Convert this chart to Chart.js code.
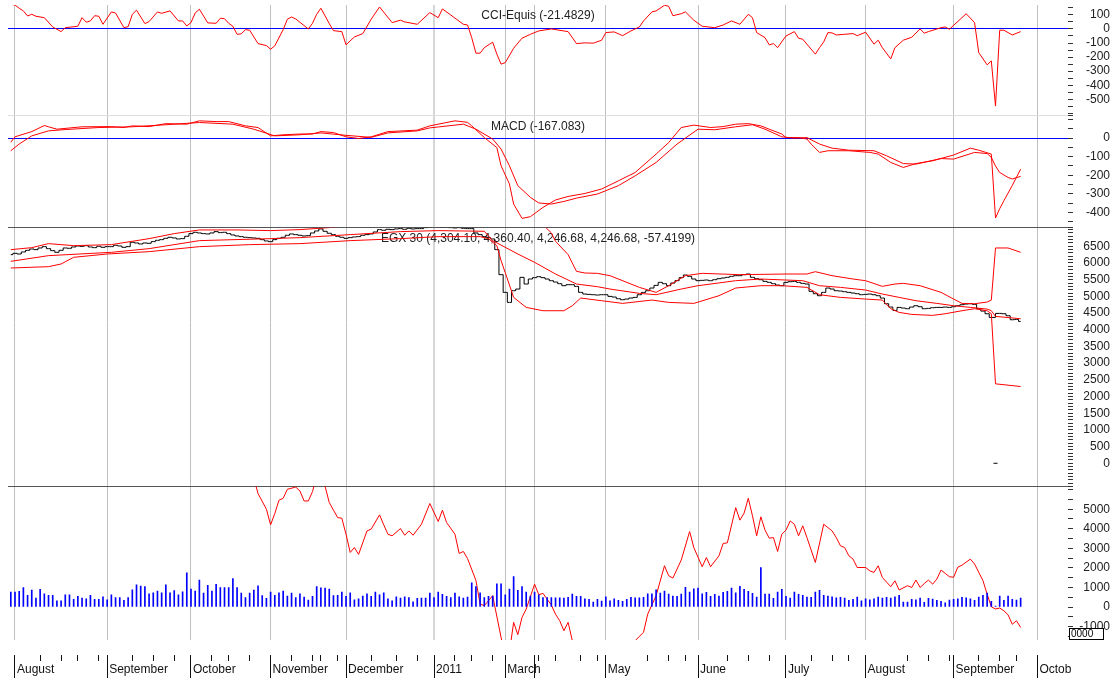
<!DOCTYPE html>
<html>
<head>
<meta charset="utf-8">
<script src="https://cdn.jsdelivr.net/npm/chart.js@4.4.1/dist/chart.umd.min.js"></script>
<style>
  html, body { margin: 0; padding: 0; background: #fff; }
</style>
</head>
<body>
<canvas id="chart" width="1110" height="682"></canvas>
<script>
// ===== X AXIS: trading-day index, month starts and week marks =====
const monthDays   = [1, 23, 43, 62, 80, 101, 118, 125, 142, 164, 185, 204, 225, 245];
const monthLabels = ['August', 'September', 'October', 'November', 'December', '2011', 'March', '',
                     'May', 'June', 'July', 'August', 'September', 'Octob'];
const weekDays = [7, 12, 16, 21, 29, 34, 39, 48, 52, 57, 67, 72, 74, 78, 86, 92, 97, 106, 110, 115,
                  126, 130, 136, 140, 152, 157, 161, 171, 176, 181, 191, 196, 200, 214, 219, 224, 231, 236, 240];

// ===== CCI =====
const cciDays = [0, 1, 2, 3, 4, 5, 6, 8, 10, 12, 13, 16, 17, 18, 19, 20, 21, 22, 24, 25, 27, 28, 29, 30, 32, 33, 35, 36, 38,
  40, 41, 42, 43, 44, 45, 46, 47, 49, 50, 51, 52, 53, 54, 55, 56, 57, 59, 61, 62, 63, 65, 66, 67, 68, 71, 72, 73, 74,
  76, 77, 79, 80, 82, 84, 86, 88, 91, 93, 94, 97, 100, 102, 103, 105, 108, 109, 110, 111, 112, 113, 115, 116, 117,
  118, 120, 122, 124, 126, 129, 133, 135, 137, 139, 141, 142, 144, 146, 148, 150, 151, 153, 154, 156, 157, 158, 160,
  161, 163, 165, 168, 170, 172, 174, 176, 177, 178, 180, 181, 182, 183, 185, 187, 188, 189, 192, 193, 194, 195, 196,
  197, 199, 201, 202, 204, 206, 207, 208, 210, 211, 213, 215, 217, 218, 219, 222, 223, 224, 228, 230, 231, 233, 234,
  235, 236, 237, 239, 241];
const cciValues = [175, 170, 147, 128, 92, 104, 90, 80, 14, -19, 9, 19, 80, 48, 57, 94, 90, 33, 121, 113, 9, 16, 104, 133, 38, 52, 121, 111, 128,
  57, 57, 21, 45, 113, 140, 92, 43, 40, 76, 73, 40, 19, -38, -35, -5, -9, -104, -118, -144, -120, -5, 69, 85, 71, 0, 40, 104, 147,
  38, -12, -19, -113, -57, -33, 69, 156, 45, 62, 50, 33, 116, 80, 142, 99, 33, 28, -62, -172, -172, -133, -94, -179, -250,
  -239, -137, -66, -38, -14, 0, -19, -104, -99, -101, -80, -26, -21, -48, -14, 14, 57, 121, 128, 168, 161, 94, 108,
  121, 62, 19, 9, 28, 57, 33, 104, 80, -26, -62, -113, -104, -133, -50, -19, -66, -73, -179, -133, -92, -26, -28,
  -43, -38, -33, -48, -23, -108, -80, -133, -213, -133, -80, -59, 0, -30, -19, 9, 14, -2, 108, 45, -168, -255, -227,
  -548, -9, -9, -43, -19];
const cciLabels = [100, 0, -100, -200, -300, -400, -500];

// ===== MACD =====
const macdDays = [0, 1, 5, 8, 9, 11, 17, 24, 27, 29, 33, 37, 42, 45, 49, 52, 56, 59, 62, 65, 69, 72, 74, 77, 80, 83, 86, 90,
  97, 100, 106, 109, 110, 113, 116, 117, 119, 120, 122, 124, 127, 130, 133, 137, 141, 145, 149, 154, 157, 160, 163, 167,
  170, 173, 176, 179, 181, 184, 185, 188, 190, 191, 193, 195, 200, 205, 207, 210, 213, 216, 220, 225, 229, 231, 234,
  235, 236, 237, 239, 241];
const macdValues = [-22, 7, 35, 68, 61, 48, 61, 62, 57, 66, 62, 78, 75, 93, 89, 89, 66, 57, 12, 18, 22, 22, 35, 30, 7, -2, 7, 35,
  43, 66, 93, 85, 66, 3, -51, -149, -247, -355, -432, -423, -373, -333, -314, -298, -274, -230, -185, -86, -24, 57, 70, 57,
  62, 75, 78, 66, 48, 22, 3, 3, -5, -32, -77, -68, -68, -77, -86, -131, -158, -137, -122, -91, -54, -65, -86,
  -430, -380, -337, -255, -167];
const signalDays = [0, 2, 5, 9, 13, 21, 29, 37, 45, 53, 58, 63, 69, 74, 80, 86, 90, 97, 100, 108, 111, 115, 117, 119, 121,
  124, 126, 129, 132, 135, 140, 145, 149, 154, 159, 164, 168, 173, 177, 180, 184, 187, 190, 193, 196, 200, 206, 209,
  213, 216, 222, 225, 230, 233, 234, 235, 236, 238, 239, 241];
const signalValues = [-68, -32, 12, 39, 46, 57, 61, 72, 84, 75, 48, 12, 18, 28, 15, 4, 28, 39, 55, 75, 48, -5, -59, -149, -256,
  -319, -349, -355, -341, -323, -301, -256, -203, -131, -32, 48, 45, 61, 72, 48, 7, 0, 3, -32, -54, -65, -68, -95,
  -137, -140, -110, -113, -77, -83, -104, -150, -185, -212, -220, -206];
const macdLabels = [0, -100, -200, -300, -400];

// ===== EGX 30 price (daily close) and Bollinger bands =====
const closes = [
  6250, 6290, 6270, 6330, 6380, 6420, 6400, 6450, 6490, 6430,
  6370, 6320, 6380, 6450, 6440, 6480, 6510, 6500, 6520, 6480,
  6460, 6500, 6470, 6490, 6490, 6530, 6510, 6470, 6490, 6620,
  6600, 6570, 6600, 6590, 6640, 6680, 6700, 6740, 6770, 6750,
  6720, 6730, 6800, 6880, 6920, 6900, 6880, 6870, 6900, 6940,
  6910, 6920, 6880, 6840, 6810, 6790, 6770, 6760, 6750, 6740,
  6700, 6660, 6640, 6700, 6740, 6770, 6830, 6870, 6850, 6830,
  6810, 6820, 6900, 6960, 7020, 6950, 6890, 6850, 6800, 6770,
  6740, 6760, 6780, 6790, 6830, 6850, 6870, 6930, 7000, 6980,
  7010, 7000, 7020, 7030, 7010, 7040, 7020, 7030, 7030, 7060,
  7080, 7100, 7090, 7070, 7080, 7060, 7050, 7060, 7040, 7030,
  7030, 6900, 6850, 6790, 6760, 6720, 6400, 5650, 5120, 4820,
  5170, 5220, 5570, 5370, 5520, 5560, 5590, 5560, 5520, 5470,
  5430, 5380, 5320, 5350, 5350, 5300, 5120, 5070, 5060, 5050,
  5040, 5050, 5050, 5000, 4980, 4930, 4900, 4920, 4950, 4970,
  5050, 5120, 5170, 5250, 5330, 5420, 5380, 5320, 5400, 5470,
  5560, 5640, 5600, 5520, 5470, 5480, 5490, 5470, 5500, 5530,
  5550, 5570, 5600, 5620, 5620, 5650, 5670, 5570, 5530, 5500,
  5450, 5420, 5380, 5340, 5320, 5420, 5440, 5450, 5420, 5390,
  5370, 5150, 5080, 5020, 5120, 5250, 5220, 5170, 5160, 5140,
  5120, 5100, 5080, 5050, 5060, 5070, 5050, 5020, 4950, 4780,
  4680, 4580, 4670, 4650, 4630, 4680, 4720, 4690, 4630, 4640,
  4660, 4670, 4670, 4680, 4670, 4690, 4720, 4750, 4770, 4780,
  4760, 4630, 4560, 4480, 4370, null, 4490, 4480, 4420, 4300,
  4310, 4250];
const badTickDays = [235];
const badTickValues = [0];

const upperDays = [0, 5, 9, 15, 24, 33, 39, 45, 54, 62, 69, 76, 83, 98, 112, 122, 127, 129, 130, 133, 135, 137, 140, 143,
  150, 154, 157, 161, 165, 174, 185, 190, 192, 196, 201, 204, 208, 211, 213, 217, 222, 225, 227, 230, 233, 234, 235,
  238, 241];
const upperValues = [6400, 6460, 6580, 6520, 6550, 6730, 6880, 6990, 6990, 6970, 7000, 7060, 7150, 7210, 7210, 7210, 7150,
  6900, 6650, 6250, 5750, 5700, 5690, 5620, 5270, 5120, 5320, 5620, 5690, 5650, 5670, 5670, 5740, 5620, 5520, 5470,
  5300, 5370, 5390, 5320, 5120, 4920, 4790, 4780, 4830, 4890, 6450, 6450, 6320];
const middleDays = [0, 9, 24, 33, 45, 62, 69, 81, 93, 102, 113, 115, 121, 125, 130, 135, 140, 143, 150, 154, 160, 164, 173,
  179, 185, 189, 193, 198, 204, 208, 212, 216, 221, 225, 229, 233, 234, 235, 241];
const middleValues = [6050, 6220, 6320, 6430, 6670, 6730, 6760, 6850, 6940, 6970, 6950, 6670, 6270, 6020, 5670, 5370, 5290,
  5220, 5090, 5050, 5220, 5320, 5470, 5520, 5490, 5470, 5320, 5270, 5190, 5070, 4970, 4870, 4790, 4720, 4670, 4620,
  4570, 4400, 4330];
const lowerDays = [0, 9, 12, 15, 23, 33, 45, 57, 69, 81, 93, 102, 112, 114, 116, 117, 118, 120, 123, 127, 132, 134, 136,
  141, 146, 153, 157, 163, 169, 173, 179, 184, 190, 193, 198, 204, 208, 210, 212, 215, 220, 223, 227, 230, 233, 234,
  235, 241];
const lowerValues = [5850, 5890, 5970, 6170, 6270, 6340, 6490, 6550, 6580, 6670, 6730, 6790, 6790, 6730, 6520, 6070, 5710,
  4970, 4670, 4570, 4570, 4720, 4950, 4870, 4790, 4890, 4820, 4790, 5020, 5250, 5320, 5320, 5270, 5050, 4970, 4920,
  4890, 4630, 4520, 4460, 4430, 4480, 4570, 4630, 4570, 4480, 2380, 2300];
const priceLabels = [6500, 6000, 5500, 5000, 4500, 4000, 3500, 3000, 2500, 2000, 1500, 1000, 500, 0];

// ===== Volume bars and the red volume-panel line =====
const volumes = [
  765, 765, 800, 1000, 595, 870, 460, 900, 680, 595, 595, 320, 320, 630, 630, 390,
  545, 460, 425, 595, 390, 390, 525, 375, 630, 490, 490, 340, 490, 885, 1140, 1070, 1050, 680, 730, 815,
  730, 1140, 730, 835, 630, 780, 1750, 920, 815, 1380,
  715, 1105, 815, 1155, 1000, 1000, 1000, 1460, 1000, 715, 490, 715, 870, 1090, 580, 440, 765, 595, 730, 815,
  560, 715, 490, 680, 510, 360, 545, 1050, 985, 970, 920,
  580, 595, 765, 545, 730, 375, 425, 560, 680, 545, 765, 630, 730, 425, 320, 525, 460, 525, 490, 270, 440,
  460, 460, 715, 490, 765, 645, 545, 490, 715, 525,
  460, 510, 1240, 1050, 730, 490, 545, 560, 1190, 1190, 630, 920, 1560, 850, 1050, 765, 560, 765, 630, 490,
  490, 490, 476,
  476, 459, 493, 663, 544, 544, 425, 391, 255, 391, 306, 527, 323, 425, 340, 289, 391, 493, 476, 476, 493,
  680, 680, 884, 714, 816, 663, 561, 544, 663, 1003, 765, 935, 969, 680, 748, 544, 646, 561, 748, 799, 969,
  731, 1054, 901, 799, 697, 510, 2023,
  663, 663, 442, 765, 901, 544, 459, 765, 646, 595, 510, 493, 765, 850, 595, 561, 527, 476, 493, 459, 340,
  391, 510, 323, 425, 374, 425, 510, 459, 493, 459, 527, 595, 255, 255, 391, 374, 459, 238, 442, 408, 340,
  289, 221, 357, 391, 425, 493, 476, 425, 340, 510, 595, 714, 289, 51, 561, 340, 561, 391, 357, 459];
const obvDays = [57, 59, 61, 62, 63, 64, 65, 66, 68, 69, 70, 71, 72, 73, 74, 75, 76, 78, 79, 80, 81, 82, 83, 85, 86, 88, 89,
  90, 91, 93, 94, 95, 96, 98, 100, 102, 103, 104, 106, 107, 108, 109, 111, 112, 113, 115, 117, 118, 119, 120, 121, 122,
  123, 125, 126, 127, 129, 130, 131, 132, 133, 134, 135, 138, 142, 146, 148, 149, 151, 152, 154, 156, 157, 158, 160,
  162, 163, 165, 166, 167, 169, 170, 171, 173, 174, 175, 176, 177, 178, 179, 180, 181, 182, 183, 184, 185, 186, 187,
  188, 189, 190, 192, 194, 196, 197, 198, 199, 200, 201, 202, 204, 205, 206, 207, 208, 210, 211, 212, 214, 215, 216,
  217, 218, 219, 220, 221, 222, 223, 224, 225, 226, 227, 229, 230, 232, 233, 234, 235, 236, 237, 238, 239, 240, 241];
const obvValues = [7400, 5800, 5000, 4200, 4780, 5460, 5560, 6020, 6130, 5930, 5420, 5420, 5900, 6700, 6500, 6170, 5340, 4570,
  4540, 3720, 2790, 3040, 2690, 3890, 3980, 4710, 4200, 3720, 3640, 4010, 3670, 3890, 3670, 4230, 5290, 4370, 4950,
  4320, 3720, 2740, 2840, 2480, 1360, 150, 70, 580, -1550, -2500, -2300, -780, -1410, -530, -100, 1170, 630, 700, 100,
  -370, -700, -1210, -780, -1720, -2400, -3100, -3200, -2600, -2300, -1720, -1290, -360, 580, 2110, 1600, 1480, 2400,
  3860, 3040, 2060, 2530, 2060, 2620, 3250, 3280, 5080, 4440, 4800, 5560, 4660, 3640, 4610, 3930, 3520, 3550, 2840,
  3720, 3930, 4400, 4230, 3640, 4150, 3550, 2280, 4230, 3890, 3550, 3130, 3040, 2620, 2450, 2020, 2020, 1850, 1770,
  2110, 1510, 1040, 1340, 870, 1090, 1000, 1380, 1000, 1200, 1380, 1170, 1430, 1890, 1720, 1550, 1520, 2040, 2140,
  2450, 2200, 1350, 660, 15, -100, -50, -190, -400, -880, -700, -1040];
const volumeLabels = [5000, 4000, 3000, 2000, 1000, 0, -1000];

// ===== PANEL TEXTS =====
const panelTitles = {
  yCci: 'CCI-Equis (-21.4829)',
  yMacd: 'MACD (-167.083)',
  yPrice: 'EGX 30 (4,304.10, 4,360.40, 4,246.68, 4,246.68, -57.4199)'
};
const lastValueBox = '0000';

// ===== HELPERS =====
const FONT = '"Liberation Sans", Arial, Helvetica, sans-serif';
const RED = '#ff0000';
const X_MIN = -0.67, X_MAX = 252.3;

const pairs = (days, vals) => days.map((d, i) => ({ x: d, y: vals[i] }));
const daily = vals => vals.map((v, i) => ({ x: i, y: v }));

// no automatic label padding round the plot: the panels sit edge to edge
function noPadding(s) {
    s.paddingTop = 0; s.paddingBottom = 0; s.paddingLeft = 0; s.paddingRight = 0;
}

function marks(from, to, step, extra) {
    const out = [];
    for (let v = from; v >= to; v -= step) out.push(v);
    if (extra !== undefined) out.unshift(extra);
    return out;
}

function panelAxis(o) {
    const tickValues = marks(o.from, o.to, o.step, o.sepColor ? o.max : undefined);
    return {
        type: 'linear',
        position: 'right',
        stack: 'panels',
        stackWeight: o.weight,
        min: o.min,
        max: o.max,
        beginAtZero: false,
        afterBuildTicks: s => { s.ticks = tickValues.map(v => ({ value: v })); },
        afterFit: s => { s.width = 42; noPadding(s); },
        border: { display: false },
        grid: {
            drawOnChartArea: true,
            color: c => {
                const v = c.tick ? c.tick.value : null;
                if (o.sepColor && v === o.max) return o.sepColor;
                if (o.zeroLine && v === 0) return '#0000ff';
                return 'rgba(0,0,0,0)';
            },
            tickColor: '#333',
            tickLength: 5
        },
        ticks: {
            autoSkip: false,
            crossAlign: 'far',
            padding: o.pad,
            color: '#222',
            font: { family: FONT, size: 12 },
            callback: v => o.labels.includes(v) ? String(v) : ''
        }
    };
}

function xAxis(weight, values, height, extra) {
    return Object.assign({
        type: 'linear', position: 'bottom', weight, min: X_MIN, max: X_MAX,
        offset: false,
        afterBuildTicks: s => { s.ticks = values.map(v => ({ value: v })); },
        afterFit: s => { s.height = height; noPadding(s); },
        border: { display: false }
    }, extra);
}

function line(data, axis, color, extra) {
    return Object.assign({
        type: 'line', data, yAxisID: axis, borderColor: color, borderWidth: 1,
        pointRadius: 0, tension: 0, fill: false
    }, extra || {});
}

// ===== TITLES + VALUE BOX =====
const panelTextPlugin = {
    id: 'panelText',
    beforeDatasetsDraw(chart) {
        const ctx = chart.ctx;
        const area = chart.chartArea;
        ctx.save();
        ctx.font = '12px ' + FONT;
        ctx.fillStyle = '#222';
        ctx.textAlign = 'center';
        ctx.textBaseline = 'middle';
        Object.keys(panelTitles).forEach(id => {
            ctx.fillText(panelTitles[id], (area.left + area.right) / 2, chart.scales[id].top + 11);
        });
        ctx.restore();
    },
    afterDraw(chart) {
        const ctx = chart.ctx;
        const s = chart.scales.yVol;
        ctx.save();
        ctx.fillStyle = '#fff';
        ctx.strokeStyle = '#000';
        ctx.lineWidth = 1;
        ctx.fillRect(s.left + 1, s.bottom - 12, 35, 12);
        ctx.strokeRect(s.left + 1.5, s.bottom - 11.5, 34, 11);
        ctx.fillStyle = '#000';
        ctx.font = '10px ' + FONT;
        ctx.textAlign = 'left';
        ctx.textBaseline = 'middle';
        ctx.fillText(lastValueBox, s.left + 3, s.bottom - 6);
        ctx.restore();
    }
};

// ===== CHART =====
const yearDay = monthDays[monthLabels.indexOf('2011')];

new Chart(document.getElementById('chart'), {
    type: 'line',
    data: {
        datasets: [
            line(pairs(cciDays, cciValues), 'yCci', RED),
            line(pairs(macdDays, macdValues), 'yMacd', RED),
            line(pairs(signalDays, signalValues), 'yMacd', RED),
            line(pairs(upperDays, upperValues), 'yPrice', RED),
            line(pairs(middleDays, middleValues), 'yPrice', RED),
            line(pairs(lowerDays, lowerValues), 'yPrice', RED),
            line(daily(closes), 'yPrice', '#000', { stepped: 'middle', spanGaps: true }),
            line(pairs(badTickDays, badTickValues), 'yPrice', '#000',
                 { showLine: false, pointRadius: 2, pointStyle: 'line', pointBorderColor: '#000', pointBorderWidth: 1 }),
            {
                type: 'bar', data: daily(volumes), yAxisID: 'yVol',
                backgroundColor: '#0000ff', borderWidth: 0, barThickness: 1, grouped: false
            },
            line(pairs(obvDays, obvValues), 'yVol', RED)
        ]
    },
    options: {
        responsive: false,
        animation: false,
        devicePixelRatio: 1,
        events: [],
        layout: { padding: { top: 4, left: 8, right: 0, bottom: 0 } },
        plugins: { legend: { display: false }, tooltip: { enabled: false } },
        scales: {
            x: xAxis(0, monthDays, 15, {
                ticks: { display: false },
                grid: {
                    offset: false,
                    drawTicks: false,
                    color: c => (c.tick && c.tick.value === yearDay) ? '#d6d6d6' : '#c0c0c0',
                    lineWidth: c => (c.tick && c.tick.value === yearDay) ? 2 : 1
                }
            }),
            xWeeks: xAxis(1, weekDays.concat(monthDays), 6, {
                ticks: { display: false },
                grid: { offset: false, drawOnChartArea: false, tickLength: 6, tickColor: '#111' }
            }),
            xMonths: xAxis(2, monthDays, 21, {
                grid: { offset: false, drawOnChartArea: false, tickLength: 17, tickColor: '#111' },
                ticks: {
                    autoSkip: false, maxRotation: 0, minRotation: 0,
                    align: 'start', labelOffset: 2, padding: -16,
                    color: '#111', font: { family: FONT, size: 12 },
                    callback: v => monthLabels[monthDays.indexOf(v)]
                }
            }),
            yCci: panelAxis({ weight: 111, min: -617, max: 170, from: 150, to: -600, step: 50,
                              labels: cciLabels, zeroLine: true, pad: 12 }),
            yMacd: panelAxis({ weight: 112, min: -482, max: 120, from: 100, to: -450, step: 50,
                               labels: macdLabels, zeroLine: true, pad: 11, sepColor: '#dddddd' }),
            yPrice: panelAxis({ weight: 259, min: -688, max: 7059, from: 7000, to: -600, step: 100,
                                labels: priceLabels, pad: 8, sepColor: '#555555' }),
            yVol: panelAxis({ weight: 154, min: -1684, max: 6173, from: 6000, to: -1500, step: 500,
                              labels: volumeLabels, pad: 5, sepColor: '#555555' })
        }
    },
    plugins: [panelTextPlugin]
});
</script>
</body>
</html>
